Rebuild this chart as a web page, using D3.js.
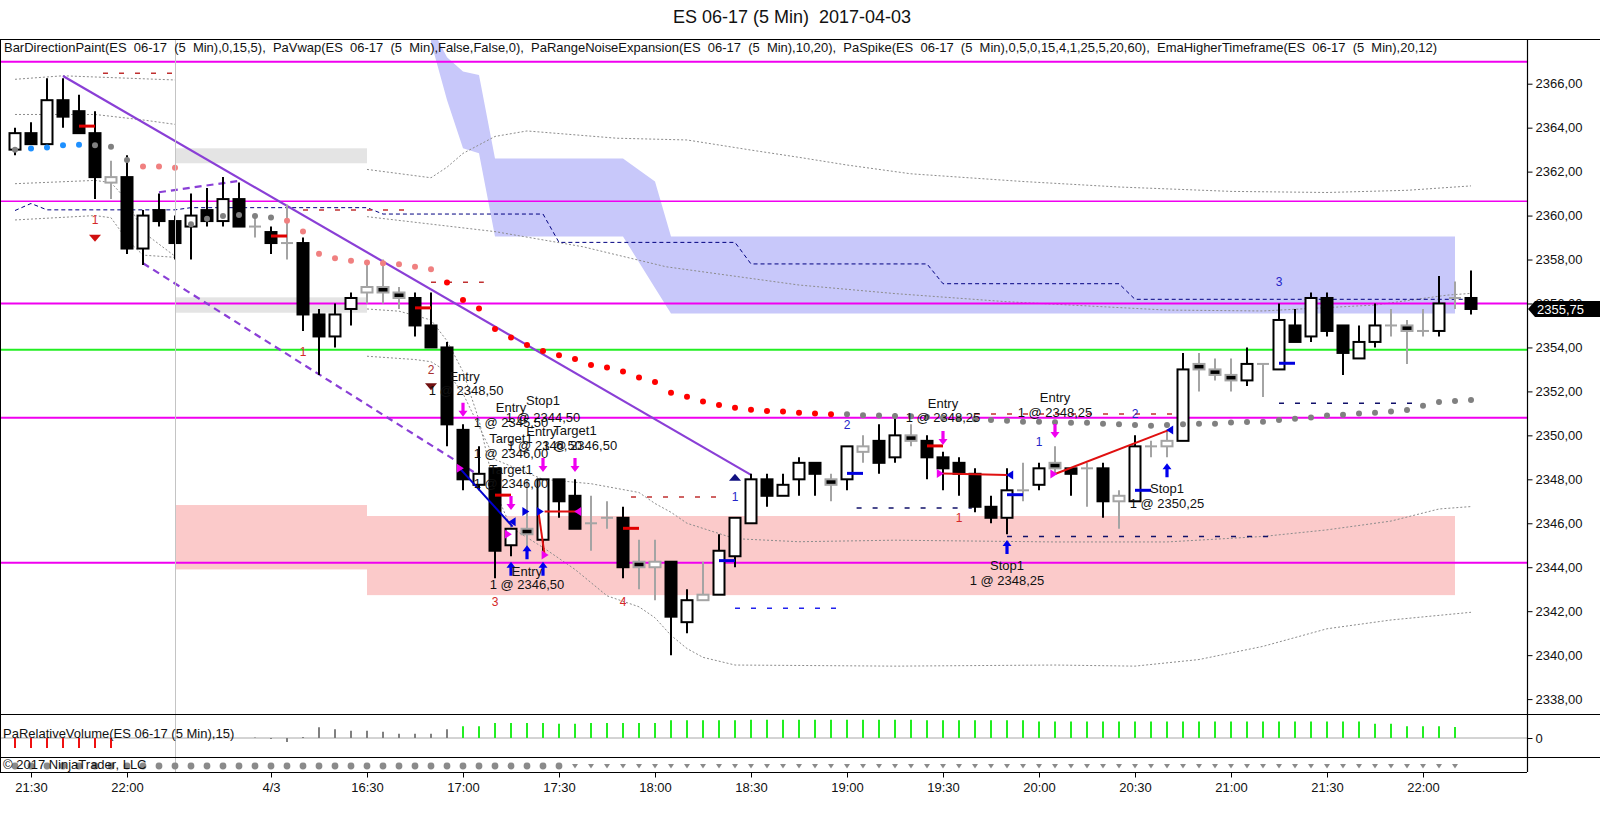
<!DOCTYPE html>
<html>
<head>
<meta charset="utf-8">
<script src="https://cdn.jsdelivr.net/npm/d3@7"></script>
<style>
  body { margin: 0; background: #fff; }
  text { font-family: "Liberation Sans", Arial, sans-serif; }
</style>
</head>
<body>
<div id="chart"></div>
<script>
// ---------- bar data (ES 06-17, 5 min) ----------
var opens  = [2363.0,2363.75,2363.25,2365.25,2364.75,2363.75,2361.5,2361.75,2358.5,2360.25,
              2359.75,2359.5,2360.25,2359.75,2360.75,2359.5,2359.25,2358.75,2358.75,2355.5,
              2354.5,2355.75,2356.5,2356.75,2356.5,2356.25,2355.0,2354.0,2350.25,2347.75,
              2348.5,2345.0,2345.75,2345.25,2348.0,2347.25,2346.0,2346.25,2346.25,2344.25,
              2344.0,2344.25,2341.5,2342.5,2342.75,2344.5,2346.0,2348.0,2347.25,2348.0,
              2348.75,2348.0,2348.0,2349.25,2349.75,2349.0,2350.0,2349.75,2349.0,2348.75,
              2348.25,2346.75,2346.25,2347.5,2347.75,2348.75,2348.5,2348.5,2348.5,2347.0,
              2347.0,2349.5,2349.5,2349.75,2353.25,2353.0,2352.75,2352.5,2353.25,2353.0,
              2355.0,2354.5,2356.25,2355.0,2353.5,2354.25,2355.0,2355.0,2354.75,2354.75,
              2356.25,2356.25];
var highs  = [2364.0,2364.25,2366.25,2366.25,2365.5,2364.75,2362.5,2362.75,2360.25,2361.0,
              2360.0,2361.0,2361.25,2361.75,2361.5,2360.0,2359.5,2360.5,2359.0,2355.75,
              2356.0,2356.5,2357.75,2358.0,2356.75,2356.5,2356.5,2354.25,2350.5,2349.5,
              2348.5,2345.75,2348.0,2348.0,2348.0,2348.0,2347.25,2347.0,2346.75,2345.25,
              2345.25,2344.25,2343.0,2344.25,2345.5,2346.25,2348.25,2348.25,2348.25,2349.0,
              2348.75,2348.25,2349.5,2350.0,2350.5,2351.0,2350.5,2350.0,2349.25,2349.0,
              2348.5,2347.25,2348.5,2348.75,2348.75,2349.5,2348.5,2348.75,2348.75,2347.5,
              2350.0,2349.75,2350.25,2353.75,2353.75,2353.5,2353.5,2354.0,2353.25,2356.0,
              2355.75,2356.5,2356.5,2355.0,2355.0,2356.0,2355.75,2355.25,2355.75,2357.25,
              2357.0,2357.5];
var lows   = [2362.75,2363.25,2363.25,2364.0,2363.75,2360.75,2360.75,2358.25,2357.75,2359.5,
              2358.0,2358.0,2359.5,2359.5,2359.5,2359.0,2358.25,2358.0,2354.75,2352.75,
              2354.0,2355.0,2356.0,2356.0,2355.75,2354.5,2354.0,2349.5,2347.5,2347.5,
              2343.5,2344.5,2344.75,2344.75,2346.25,2345.75,2344.75,2345.75,2343.5,2343.0,
              2342.5,2340.0,2341.0,2342.5,2342.75,2344.0,2346.0,2346.75,2347.25,2347.25,
              2347.25,2347.0,2347.5,2348.75,2348.25,2348.75,2349.5,2348.0,2347.5,2347.25,
              2346.5,2346.0,2345.5,2347.0,2347.5,2348.25,2347.25,2346.75,2346.25,2345.75,
              2347.0,2349.0,2349.0,2349.75,2352.0,2352.5,2352.0,2352.25,2351.75,2353.0,
              2354.25,2354.25,2354.5,2352.75,2353.5,2354.0,2354.5,2353.25,2354.5,2354.5,
              2355.75,2355.5];
var closes = [2363.75,2363.25,2365.25,2364.5,2363.75,2361.75,2361.75,2358.5,2360.0,2359.75,
              2358.75,2360.0,2359.75,2360.75,2359.5,2359.5,2358.75,2358.75,2355.5,2354.5,
              2355.5,2356.25,2356.75,2356.5,2356.25,2355.0,2354.0,2350.5,2348.0,2348.25,
              2344.75,2345.75,2345.5,2348.0,2347.0,2345.75,2346.0,2346.25,2344.0,2344.0,
              2344.25,2341.75,2342.5,2342.75,2344.75,2346.25,2348.0,2347.25,2347.75,2348.75,
              2348.25,2347.75,2349.5,2349.5,2348.75,2350.0,2349.75,2349.0,2348.5,2348.25,
              2346.75,2346.25,2347.5,2347.5,2348.5,2348.5,2348.25,2348.5,2347.0,2347.25,
              2349.5,2349.5,2349.75,2353.0,2353.0,2352.75,2352.5,2353.25,2353.25,2355.25,
              2354.25,2356.25,2354.75,2353.75,2354.25,2355.0,2355.0,2354.75,2354.75,2356.0,
              2356.25,2355.75];
// BarDirectionPaint: w = up, b = down, gw / gb = grey outline (white / black fill), g = grey cross
var paint = ["w","b","w","b","b","b","gw","b","w","b",
             "b","w","b","w","b","g","b","g","b","b",
             "w","w","gw","gb","gb","b","b","b","b","w",
             "b","w","gb","w","b","b","g","g","b","gb",
             "gw","b","w","gw","w","w","w","b","w","w",
             "b","gb","w","gw","b","w","gb","b","b","b",
             "b","b","w","g","w","gb","b","g","b","gw",
             "w","g","gw","w","gb","gb","gb","w","g","w",
             "b","w","b","b","w","w","g","gb","g","w",
             "g","b"];

// EmaHigherTimeframe dots, one per bar
var emaValues = [2363.0,2363.05,2363.1,2363.2,2363.22,2363.2,2363.13,2362.53,2362.23,2362.23,
                 2362.18,2359.6,2359.85,2359.98,2360.03,2359.98,2359.91,2359.77,2359.27,2358.26,
                 2358.06,2357.95,2357.86,2357.83,2357.78,2357.67,2357.56,2356.95,2356.16,2355.77,
                 2354.84,2354.45,2354.11,2353.84,2353.65,2353.47,2353.2,2353.09,2352.9,2352.63,
                 2352.43,2351.94,2351.76,2351.54,2351.38,2351.26,2351.16,2351.11,2351.08,2351.03,
                 2350.99,2350.96,2350.96,2350.91,2350.9,2350.88,2350.87,2350.84,2350.8,2350.77,
                 2350.73,2350.7,2350.66,2350.62,2350.62,2350.6,2350.57,2350.57,2350.53,2350.5,
                 2350.47,2350.44,2350.47,2350.5,2350.53,2350.53,2350.58,2350.61,2350.62,2350.7,
                 2350.76,2350.81,2350.9,2350.94,2350.99,2351.03,2351.08,2351.15,2351.35,2351.52,
                 2351.56,2351.61];
// dot state runs: n = neutral, u = up, s = weak down, r = strong down
var emaStateRuns = [["n",1],["u",4],["n",3],["s",3],["n",6],["s",10],["r",25],["n",40]];

// higher timeframe band (bar, high, low)
var bandBars = [26, 27, 28, 29, 30, 38, 40, 41, 90];
var bandHigh = [2368.6, 2367.2, 2366.55, 2366.4, 2362.6, 2362.6, 2361.55, 2359.05, 2359.05];
var bandLow  = [2367.9, 2365.26, 2363.06, 2362.83, 2359.05, 2359.05, 2356.7, 2355.55, 2355.55];

// PaRangeNoiseExpansion bands, [bar, price]
var noiseBands = [
  [[0,2366.2],[3,2366.36],[10,2366.17]],
  [[0,2364.6],[5,2364.6],[8,2364.35],[10,2364.15]],
  [[0,2361.45],[5,2361.6],[6,2361.5],[7,2360.7],[8,2359.25],[10,2358.15]],
  [[0,2359.8],[5,2360.0],[6,2359.9],[7,2358.9],[8,2358.2],[10,2358.1]],
  [[22,2362.1],[26,2361.72],[27,2362.2],[28,2362.83],[30,2363.6],[32,2363.85],[37.6,2363.52],[42,2363.44],
   [46,2362.98],[49,2362.65],[52,2362.3],[56,2361.9],[63,2361.55],[69,2361.3],[76,2361.1],[82,2361.05],[87,2361.15],[91,2361.35]],
  [[22,2359.95],[30,2359.27],[35.5,2358.58],[40.7,2357.67],[49,2356.84],[55,2356.45],[62,2356.08],
   [72,2355.7],[78,2355.66],[85,2355.93],[89.5,2356.38],[91,2356.46]],
  [[22,2353.6],[25,2353.45],[26,2353.35],[27,2352.9],[28,2351.9],[29,2350.4],[30,2348.9],[31,2348.6],[33,2348.0],
   [36,2347.8],[39,2347.4],[40,2346.9],[41,2346.5],[42,2346.0],[45,2345.3],[49,2345.16],[55,2345.23],[65,2345.15],
   [72,2345.15],[78,2345.4],[82,2345.7],[86,2346.1],[89,2346.65],[91,2346.76]],
  [[22,2355.75],[24,2355.65],[26,2355.25],[27,2354.3],[28,2352.9],[29,2350.7],[30,2347.5],[31,2345.8],[33,2344.9],
   [35,2343.9],[37,2342.7],[39,2342.2],[40,2341.7],[41,2340.9],[42,2340.3],[43,2339.9],[45,2339.55],[55,2339.5],
   [65,2339.55],[70,2339.5],[74,2339.8],[78,2340.4],[82,2341.2],[86,2341.6],[91,2341.95]]
];
// PaVwap step line
var vwapLine = [[0,2360.23],[1,2360.55],[2,2360.26],[10,2360.26],[11,2360.36],[22,2360.36],[23,2360.07],[33,2360.07],
                [34,2358.78],[45,2358.78],[46,2357.8],[57,2357.8],[58,2356.9],[69,2356.9],[70,2356.19],[91,2356.19]];

// horizontal levels and zones
var magentaLevels = [2367.0, 2360.65, 2356.0, 2350.8, 2344.2];
var greenLevels = [2353.9];
var greyZones = [[10, 22, 2363.06, 2362.38], [10, 22, 2356.28, 2355.58]];
var pinkZones = [[10, 22, 2346.83, 2343.9], [22, 90, 2346.33, 2342.73]];
var redLevels  = [[5.5,10.5,2366.47],[18,25,2360.25],[26,29.3,2356.97],[38.5,44.4,2347.2],[60,72.5,2350.97]];
var blueLevels = [[45,51.5,2342.13]];
var navyLevels = [[52.6,59.8,2346.7],[62,78.5,2345.4],[79,87.5,2351.46]];

// trend lines
var trendSolid  = [[3,2366.35],[46,2348.2]];
var trendDashed = [[[8,2357.83],[29.5,2347.95]], [[9,2361.06],[14,2361.58]]];

// PaSpike marks
var spikeRed  = [[4,2364.07],[16,2359.07],[25,2355.8],[30,2347.28],[38,2345.77],[57,2349.52]];
var spikeBlue = [[44,2344.3],[52,2348.27],[62,2347.3],[70,2347.5],[79,2353.28]];

// executions
var blueTrades = [[[27.8,2348.5],[31.1,2345.85]]];
var redTrades  = [[[32.7,2346.6],[33.1,2344.56]], [[33.1,2346.53],[35.1,2346.53]],
                  [[58,2348.27],[62,2348.2]], [[65,2348.24],[72.1,2350.24]]];
var magentaRight = [[27.8,2348.5],[30.8,2345.5],[33.1,2344.56],[57.8,2348.27],[64.9,2348.24]];
var magentaLeft  = [[35.2,2346.53]];
var blueRight    = [[31.9,2346.53],[32.8,2346.53]];
var blueLeft     = [[31.1,2346.07],[62.2,2348.2],[72.2,2350.24]];
var sellArrows   = [[28,2350.85],[31,2346.6],[33,2348.33],[35,2348.33],[58,2349.56],[65,2349.88]];
var buyArrows    = [[31,2344.25],[32,2345.0],[33,2344.25],[62,2345.24],[72,2348.73]];

var orderText  = ["Entry","1 @ 2348,50","Entry","1 @ 2345,50","Stop1","1 @ 2344,50","Target1","1 @ 2346,00",
                  "Entry","1 @ 2346,50","Target1","1 @ 2346,50","Target1","1 @ 2346,00","Entry","1 @ 2346,50",
                  "Entry","1 @ 2348,25","Stop1","1 @ 2348,25","Entry","1 @ 2348,25","Stop1","1 @ 2350,25"];
var orderBar   = [28.1,28.2,31,31,33,33,31,31, 32.9,33.1,35,35.3,31,31,32,32, 58,58,62,62,65,65,72,72];
var orderPrice = [2352.67,2352.06,2351.26,2350.58,2351.61,2350.83,2349.87,2349.18,
                  2350.17,2349.53,2350.21,2349.56,2348.47,2347.82,2343.83,2343.2,
                  2351.47,2350.82,2344.1,2343.42,2351.73,2351.05,2347.59,2346.91];

// swing counters
var countText  = ["1","1","2","3","4","1","2","1","1","2","3"];
var countBar   = [5, 18, 26, 30, 38, 45, 52, 59, 64, 70, 79];
var countPrice = [2359.8, 2353.79, 2353.0, 2342.43, 2342.43, 2347.21, 2350.47, 2346.23, 2349.71, 2350.97, 2357.0];
var countSide  = ["d","d","d2","d","d","u","u","d","u","u","u"];
var swingDown  = [[5,2358.97],[26,2352.21]];
var swingUp    = [[45,2348.09]];

// PaRelativeVolume (null = no value)
var relVolume = [-10,-10,-10,-10,-10,-10,-10,null,null,null,
                 null,null,null,null,null,0.5,-1,-4,1,10.7,
                 8.7,7.3,7.3,6.3,4.3,4.3,4.3,8.7,11.7,11.7,
                 15,15,15,15,14.3,14.3,15,15,15,15,
                 15,17.7,17.7,17.7,17.7,17.7,18.3,18.3,18.3,18.3,
                 18.3,18.3,18.3,18.3,18.3,18.3,18.3,17.7,17.7,17.7,
                 17.7,17.7,17.7,17.7,16.5,16.5,16.5,16.5,16.5,16.5,
                 16.5,16.5,16.5,16.5,16.5,16.5,16.5,16.5,16.5,16.5,
                 16.5,16.5,16.5,16.5,16.5,14.3,14.3,11.7,11.7,11.7,11];

// time axis labels
var timeTickBars = [1, 7, 16, 22, 28, 34, 40, 46, 52, 58, 64, 70, 76, 82, 88];
var timeTickText = ["21:30","22:00","4/3","16:30","17:00","17:30","18:00","18:30","19:00","19:30","20:00","20:30","21:00","21:30","22:00"];
var priceTicks = d3.range(2338, 2367, 2);
var lastPrice = 2355.75;

// ---------- layout ----------
var W = 1600, H = 828;
var axisX = 1527, panelTop = 39, priceBottom = 714, volBottom = 757, dotsBottom = 772;
var magenta = "#f000f0";

var emaState = [];
emaStateRuns.forEach(function(r) { for (var k = 0; k < r[1]; k++) emaState.push(r[0]); });

var svg = d3.select("#chart").append("svg")
    .attr("width", W).attr("height", H)
    .style("display", "block");
svg.append("rect").attr("width", W).attr("height", H).attr("fill", "#fff");

var x = d3.scaleLinear().domain([0, 91]).range([15, 1471]);
var y = d3.scaleLinear().domain([2338, 2366]).range([699.1, 83.7]);
var vy = d3.scaleLinear().domain([0, 10]).range([738, 728]);
var line = d3.line().x(function(d) { return x(d[0]); }).y(function(d) { return y(d[1]); });

svg.append("defs").append("clipPath").attr("id", "priceClip")
  .append("rect").attr("x", 0).attr("y", panelTop).attr("width", axisX).attr("height", priceBottom - panelTop);

var price = svg.append("g").attr("clip-path", "url(#priceClip)");

// higher timeframe band
var bandData = bandBars.map(function(b, i) { return {b: b, hi: bandHigh[i], lo: bandLow[i]}; });
price.append("path")
    .datum(bandData)
    .attr("fill", "#c8c8fa")
    .attr("d", d3.area().x(function(d) { return x(d.b); })
                        .y0(function(d) { return y(d.lo); })
                        .y1(function(d) { return y(d.hi); }));

// zones
function drawZones(zones, color) {
  price.selectAll(null).data(zones).enter().append("rect")
      .attr("x", function(d) { return x(d[0]); })
      .attr("width", function(d) { return x(d[1]) - x(d[0]); })
      .attr("y", function(d) { return y(d[2]); })
      .attr("height", function(d) { return y(d[3]) - y(d[2]); })
      .attr("fill", color);
}
drawZones(greyZones, "#e4e4e4");
drawZones(pinkZones, "#fbcaca");

// session break
svg.append("line")
    .attr("x1", x(10) + 0.5).attr("x2", x(10) + 0.5)
    .attr("y1", panelTop).attr("y2", dotsBottom)
    .attr("stroke", "#c4c4c4").attr("stroke-width", 1);

// noise bands + vwap
price.selectAll(".band").data(noiseBands).enter().append("path")
    .attr("class", "band")
    .attr("d", line)
    .attr("fill", "none").attr("stroke", "#8c8c8c").attr("stroke-width", 1)
    .attr("stroke-dasharray", "2,2");
price.append("path").datum(vwapLine)
    .attr("d", line)
    .attr("fill", "none").attr("stroke", "#000080").attr("stroke-width", 1)
    .attr("stroke-dasharray", "4,3");

// horizontal levels
price.selectAll(".mag").data(magentaLevels).enter().append("line")
    .attr("x1", 0).attr("x2", axisX)
    .attr("y1", function(d) { return y(d); }).attr("y2", function(d) { return y(d); })
    .attr("stroke", magenta).attr("stroke-width", function(d, i) { return i === 1 ? 1.5 : 2; });
price.selectAll(".grn").data(greenLevels).enter().append("line")
    .attr("x1", 0).attr("x2", axisX)
    .attr("y1", function(d) { return y(d); }).attr("y2", function(d) { return y(d); })
    .attr("stroke", "#22ee22").attr("stroke-width", 2);

function drawDashLevels(levels, color) {
  price.selectAll(null).data(levels).enter().append("line")
      .attr("x1", function(d) { return x(d[0]); }).attr("x2", function(d) { return x(d[1]); })
      .attr("y1", function(d) { return y(d[2]); }).attr("y2", function(d) { return y(d[2]); })
      .attr("stroke", color).attr("stroke-width", 1.5)
      .attr("stroke-dasharray", "5,11");
}
drawDashLevels(redLevels, "#c03030");
drawDashLevels(blueLevels, "#2222ee");
drawDashLevels(navyLevels, "#10106a");

// trend lines
price.append("path").datum(trendSolid).attr("d", line)
    .attr("stroke", "#8a3fd6").attr("stroke-width", 2.2).attr("fill", "none");
price.selectAll(".tdash").data(trendDashed).enter().append("path")
    .attr("d", line)
    .attr("stroke", "#8a3fd6").attr("stroke-width", 2.2).attr("fill", "none")
    .attr("stroke-dasharray", "7,5");

// candles
var bars = opens.map(function(o, i) {
  return {i: i, o: o, h: highs[i], l: lows[i], c: closes[i], p: paint[i]};
});
var candle = price.selectAll(".candle").data(bars).enter().append("g").attr("class", "candle");
candle.append("line")
    .attr("x1", function(d) { return x(d.i); }).attr("x2", function(d) { return x(d.i); })
    .attr("y1", function(d) { return y(d.h); }).attr("y2", function(d) { return y(d.l); })
    .attr("stroke", function(d) { return d.p[0] === "g" ? "#a4a4a4" : "#000"; })
    .attr("stroke-width", 2);
candle.filter(function(d) { return d.p === "g"; }).append("line")
    .attr("x1", function(d) { return x(d.i) - 6; }).attr("x2", function(d) { return x(d.i) + 6; })
    .attr("y1", function(d) { return y(d.o); }).attr("y2", function(d) { return y(d.o); })
    .attr("stroke", "#a4a4a4").attr("stroke-width", 2);
candle.filter(function(d) { return d.p !== "g"; }).append("rect")
    .attr("x", function(d) { return x(d.i) - 5.5; })
    .attr("width", 11)
    .attr("y", function(d) { return y(Math.max(d.o, d.c)); })
    .attr("height", function(d) { return Math.max(Math.abs(y(d.o) - y(d.c)), 1); })
    .attr("fill", function(d) { return (d.p === "w" || d.p === "gw") ? "#fff" : "#000"; })
    .attr("stroke", function(d) { return d.p[0] === "g" ? "#a4a4a4" : "#000"; })
    .attr("stroke-width", 2);

// EMA dots
var dotColor = {n: "#808080", u: "#1e90ff", s: "#f08080", r: "#ff0000"};
price.selectAll(".ema").data(emaValues).enter().append("circle")
    .attr("cx", function(d, i) { return x(i); })
    .attr("cy", function(d) { return y(d); })
    .attr("r", 3)
    .attr("fill", function(d, i) { return dotColor[emaState[i]]; });

// spikes
function drawSpikes(list, color) {
  price.selectAll(null).data(list).enter().append("line")
      .attr("x1", function(d) { return x(d[0]); }).attr("x2", function(d) { return x(d[0]) + 16; })
      .attr("y1", function(d) { return y(d[1]); }).attr("y2", function(d) { return y(d[1]); })
      .attr("stroke", color).attr("stroke-width", 3);
}
drawSpikes(spikeRed, "#e00000");
drawSpikes(spikeBlue, "#0000dd");

// executions
price.selectAll(".bt").data(blueTrades).enter().append("path").attr("d", line)
    .attr("stroke", "#0000cc").attr("stroke-width", 2).attr("fill", "none");
price.selectAll(".rt").data(redTrades).enter().append("path").attr("d", line)
    .attr("stroke", "#e01010").attr("stroke-width", 2).attr("fill", "none");

function drawTriangles(list, color, dir) {
  var pth = dir > 0 ? "M-3,-4.5L4,0L-3,4.5Z" : "M3,-4.5L-4,0L3,4.5Z";
  price.selectAll(null).data(list).enter().append("path")
      .attr("d", pth)
      .attr("transform", function(d) { return "translate(" + x(d[0]) + "," + y(d[1]) + ")"; })
      .attr("fill", color);
}
drawTriangles(magentaRight, magenta, 1);
drawTriangles(magentaLeft, magenta, -1);
drawTriangles(blueRight, "#0000dd", 1);
drawTriangles(blueLeft, "#0000dd", -1);

function drawArrows(list, color, down) {
  var pth = down ? "M-1.6,-14L1.6,-14L1.6,-6L4.5,-6L0,0L-4.5,-6L-1.6,-6Z"
                 : "M-1.6,14L1.6,14L1.6,6L4.5,6L0,0L-4.5,6L-1.6,6Z";
  price.selectAll(null).data(list).enter().append("path")
      .attr("d", pth)
      .attr("transform", function(d) { return "translate(" + x(d[0]) + "," + y(d[1]) + ")"; })
      .attr("fill", color);
}
drawArrows(sellArrows, magenta, true);
drawArrows(buyArrows, "#0000ee", false);

// swing counters
price.selectAll(".cnt").data(countText).enter().append("text")
    .attr("x", function(d, i) { return x(countBar[i]); })
    .attr("y", function(d, i) { return y(countPrice[i]); })
    .attr("dy", "0.35em")
    .attr("text-anchor", "middle")
    .style("font-size", "12px")
    .attr("fill", function(d, i) {
      return countSide[i] === "u" ? "#2424c8" : (countSide[i] === "d2" ? "#a83030" : "#d42828");
    })
    .text(function(d) { return d; });
price.selectAll(".sd").data(swingDown).enter().append("path")
    .attr("d", "M-6,-3.5L6,-3.5L0,3.5Z")
    .attr("transform", function(d) { return "translate(" + x(d[0]) + "," + y(d[1]) + ")"; })
    .attr("fill", function(d, i) { return i === 0 ? "#d01010" : "#701010"; });
price.selectAll(".su").data(swingUp).enter().append("path")
    .attr("d", "M-6,3.5L6,3.5L0,-3.5Z")
    .attr("transform", function(d) { return "translate(" + x(d[0]) + "," + y(d[1]) + ")"; })
    .attr("fill", "#101080");

// order labels
price.selectAll(".ord").data(orderText).enter().append("text")
    .attr("x", function(d, i) { return x(orderBar[i]); })
    .attr("y", function(d, i) { return y(orderPrice[i]); })
    .attr("dy", "0.35em")
    .attr("text-anchor", "middle")
    .style("font-size", "13px")
    .attr("fill", "#111")
    .text(function(d) { return d; });

// ---------- volume panel ----------
svg.append("line").attr("x1", 0).attr("x2", axisX).attr("y1", vy(0)).attr("y2", vy(0))
    .attr("stroke", "#a8a8a8").attr("stroke-width", 1);
var volData = relVolume.map(function(v, i) { return {i: i, v: v}; }).filter(function(d) { return d.v !== null; });
svg.selectAll(".vol").data(volData).enter().append("line")
    .attr("x1", function(d) { return x(d.i); }).attr("x2", function(d) { return x(d.i); })
    .attr("y1", vy(0)).attr("y2", function(d) { return vy(d.v); })
    .attr("stroke", function(d) { return d.v >= 11 ? "#22ee22" : (d.v <= -5 ? "#ee1111" : "#808080"); })
    .attr("stroke-width", 2);
svg.append("text").attr("x", 3).attr("y", 733)
    .attr("dy", "0.35em").style("font-size", "13px").attr("fill", "#111")
    .text("PaRelativeVolume(ES 06-17 (5 Min),15)");

// ---------- bottom dots panel ----------
svg.selectAll(".bdot").data(d3.range(0, 91)).enter().append("path")
    .attr("d", function(i) { return i < 35 ? "M-3.4,0a3.4,3.4 0 1,0 6.8,0a3.4,3.4 0 1,0 -6.8,0Z" : "M-3,-2L3,-2L0,2.5Z"; })
    .attr("transform", function(i) { return "translate(" + x(i) + "," + 766 + ")"; })
    .attr("fill", "#8a8a8a");
svg.append("text").attr("x", 3).attr("y", 764)
    .attr("dy", "0.35em").style("font-size", "13px").attr("fill", "#111")
    .text("\u00a9 2017 NinjaTrader, LLC");

// ---------- frame ----------
[panelTop + 0.5, priceBottom + 0.5, volBottom + 0.5].forEach(function(yy) {
  svg.append("line").attr("x1", 0).attr("x2", W).attr("y1", yy).attr("y2", yy)
      .attr("stroke", "#000").attr("stroke-width", 1.2);
});
svg.append("line").attr("x1", 0).attr("x2", axisX).attr("y1", dotsBottom + 0.5).attr("y2", dotsBottom + 0.5)
    .attr("stroke", "#000").attr("stroke-width", 1.2);
svg.append("line").attr("x1", axisX + 0.5).attr("x2", axisX + 0.5).attr("y1", panelTop).attr("y2", dotsBottom)
    .attr("stroke", "#000").attr("stroke-width", 1.2);
svg.append("line").attr("x1", 0.5).attr("x2", 0.5).attr("y1", panelTop).attr("y2", dotsBottom)
    .attr("stroke", "#000").attr("stroke-width", 1);

// y axis
var yAxis = svg.append("g")
    .attr("transform", "translate(" + (axisX + 0.5) + ",0)")
    .call(d3.axisRight(y).tickValues(priceTicks).tickSize(5).tickPadding(3)
            .tickFormat(function(d) { return d3.format(".2f")(d).replace(".", ","); }));
yAxis.select(".domain").remove();
yAxis.selectAll("text").style("font-size", "13px").attr("fill", "#111");

var vAxis = svg.append("g")
    .attr("transform", "translate(" + (axisX + 0.5) + ",0)")
    .call(d3.axisRight(vy).tickValues([0]).tickSize(5).tickPadding(3));
vAxis.select(".domain").remove();
vAxis.selectAll("text").style("font-size", "13px").attr("fill", "#111");

// x axis
var xAxis = svg.append("g")
    .attr("transform", "translate(0," + (dotsBottom + 0.5) + ")")
    .call(d3.axisBottom(x).tickValues(timeTickBars).tickSize(5).tickPadding(5)
            .tickFormat(function(d, i) { return timeTickText[i]; }));
xAxis.select(".domain").remove();
xAxis.selectAll("text").style("font-size", "13px").attr("fill", "#111");

// last price marker
var ly = y(lastPrice);
svg.append("path")
    .attr("d", "M" + (axisX + 1) + "," + ly + "L" + (axisX + 8) + "," + (ly - 8) + "L" + W + "," + (ly - 8) +
               "L" + W + "," + (ly + 8) + "L" + (axisX + 8) + "," + (ly + 8) + "Z")
    .attr("fill", "#000");
svg.append("text").attr("x", axisX + 10).attr("y", ly).attr("dy", "0.35em")
    .style("font-size", "13px").attr("fill", "#fff")
    .text(d3.format(".2f")(lastPrice).replace(".", ","));

// ---------- titles ----------
svg.append("text").attr("x", 792).attr("y", 17).attr("dy", "0.35em")
    .attr("text-anchor", "middle").style("font-size", "18px").attr("fill", "#111")
    .text("ES 06-17 (5 Min)  2017-04-03").style("white-space", "pre");
svg.append("text").attr("x", 4).attr("y", 47).attr("dy", "0.35em")
    .style("font-size", "13px").attr("fill", "#111").style("white-space", "pre")
    .attr("textLength", 1433).attr("lengthAdjust", "spacingAndGlyphs")
    .text("BarDirectionPaint(ES  06-17  (5  Min),0,15,5),  PaVwap(ES  06-17  (5  Min),False,False,0),  PaRangeNoiseExpansion(ES  06-17  (5  Min),10,20),  PaSpike(ES  06-17  (5  Min),0,5,0,15,4,1,25,5,20,60),  EmaHigherTimeframe(ES  06-17  (5  Min),20,12)");
</script>
</body>
</html>
